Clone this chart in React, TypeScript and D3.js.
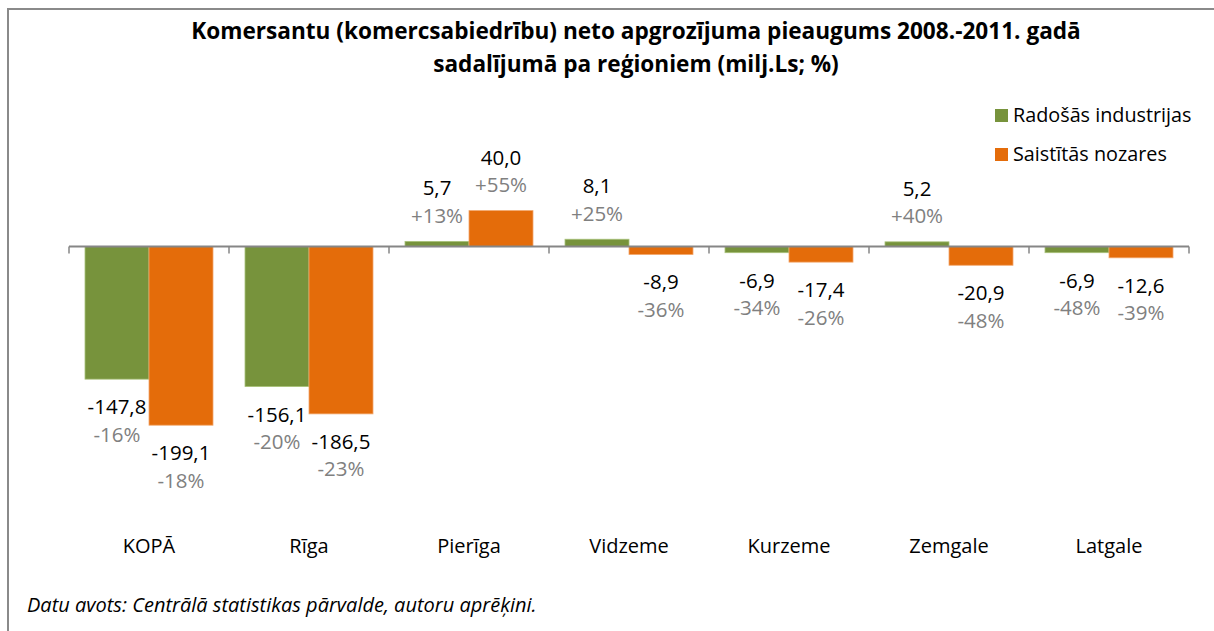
import React from "react";
import * as d3 from "d3";

const categories = ["KOPĀ", "Rīga", "Pierīga", "Vidzeme", "Kurzeme", "Zemgale", "Latgale"];
const seriesNames = ["Radošās industrijas", "Saistītās nozares"];
const creativeValues = [-147.8, -156.1, 5.7, 8.1, -6.9, 5.2, -6.9];
const relatedValues = [-199.1, -186.5, 40.0, -8.9, -17.4, -20.9, -12.6];
const creativePct = ["-16%", "-20%", "+13%", "+25%", "-34%", "+40%", "-48%"];
const relatedPct = ["-18%", "-23%", "+55%", "-36%", "-26%", "-48%", "-39%"];
const titleLines = [
  "Komersantu (komercsabiedrību) neto apgrozījuma pieaugums 2008.-2011. gadā",
  "sadalījumā pa reģioniem (milj.Ls; %)",
];
const sourceText = "Datu avots: Centrālā statistikas pārvalde, autoru aprēķini.";

const colors = ["#77933C", "#E46C0A"];
const strokes = ["#A9C27A", "#F2A66B"];
const W = 1214;
const H = 631;
const FONT = "'Open Sans', sans-serif";

export default function App() {
  const x0 = d3.scaleBand<string>().domain(categories).range([69, 1189]).paddingInner(0).paddingOuter(0);
  const x1 = d3.scaleBand<number>().domain([0, 1]).range([0, x0.bandwidth()]).paddingInner(0).paddingOuter(0.25);
  const k = 0.8975;
  const zeroY = 246.5;
  const y = d3.scaleLinear().domain([-250, 100]).range([zeroY + 250 * k, zeroY - 100 * k]);

  const series = [creativeValues, relatedValues];
  const pcts = [creativePct, relatedPct];
  const fmt = (v: number) => d3.format(".1f")(v).replace(".", ",").replace("−", "-");

  const ticks = d3.range(categories.length + 1).map((i) => 69 + i * x0.bandwidth());

  return (
    <svg width={W} height={H} style={{ position: "absolute", left: 0, top: 0 }} fontFamily={FONT}>
      <rect x={0} y={0} width={W} height={H} fill="#fff" />
      <rect x={8} y={9} width={W + 20} height={H + 20} fill="none" stroke="#8a8a8a" strokeWidth={2} />
      {titleLines.map((t, i) => (
        <text key={i} x={636} y={39 + i * 33} textAnchor="middle" fontSize={22.6} fontWeight="bold" fill="#000">
          {t}
        </text>
      ))}
      {/* bars */}
      {categories.map((c, ci) =>
        series.map((vals, si) => {
          const v = vals[ci];
          const bx = (x0(c) as number) + (x1(si) as number);
          const bw = x1.bandwidth();
          const top = Math.min(y(v), y(0));
          const h = Math.abs(y(v) - y(0));
          return (
            <rect key={`${ci}-${si}`} x={bx} y={top} width={bw} height={h} fill={colors[si]} stroke={strokes[si]} strokeWidth={0.8} />
          );
        })
      )}
      {/* axis */}
      <line x1={69} x2={1189} y1={zeroY} y2={zeroY} stroke="#868686" strokeWidth={2} />
      {ticks.map((t, i) => (
        <line key={i} x1={t} x2={t} y1={zeroY} y2={zeroY + 7} stroke="#868686" strokeWidth={1.5} />
      ))}
      {/* labels */}
      {categories.map((c, ci) =>
        series.map((vals, si) => {
          const v = vals[ci];
          const cx = (x0(c) as number) + (x1(si) as number) + x1.bandwidth() / 2;
          const end = y(v);
          const vy = v >= 0 ? end - 46 : end + 35;
          const py = vy + 27.5;
          return (
            <g key={`l-${ci}-${si}`}>
              <text x={cx} y={vy} textAnchor="middle" fontSize={20.5} fill="#000">
                {fmt(v)}
              </text>
              <text x={cx} y={py} textAnchor="middle" fontSize={20.5} fill="#808080">
                {pcts[si][ci]}
              </text>
            </g>
          );
        })
      )}
      {/* category labels */}
      {categories.map((c) => (
        <text key={c} x={(x0(c) as number) + x0.bandwidth() / 2} y={553} textAnchor="middle" fontSize={20} fill="#000">
          {c}
        </text>
      ))}
      {/* legend */}
      {seriesNames.map((n, i) => (
        <g key={n}>
          <rect x={995} y={109 + i * 39} width={13} height={13} fill={colors[i]} />
          <text x={1013} y={122 + i * 39} fontSize={19.8} fill="#000">
            {n}
          </text>
        </g>
      ))}
      <text x={27} y={612} fontSize={20} fontStyle="italic" fill="#000">
        {sourceText}
      </text>
    </svg>
  );
}
